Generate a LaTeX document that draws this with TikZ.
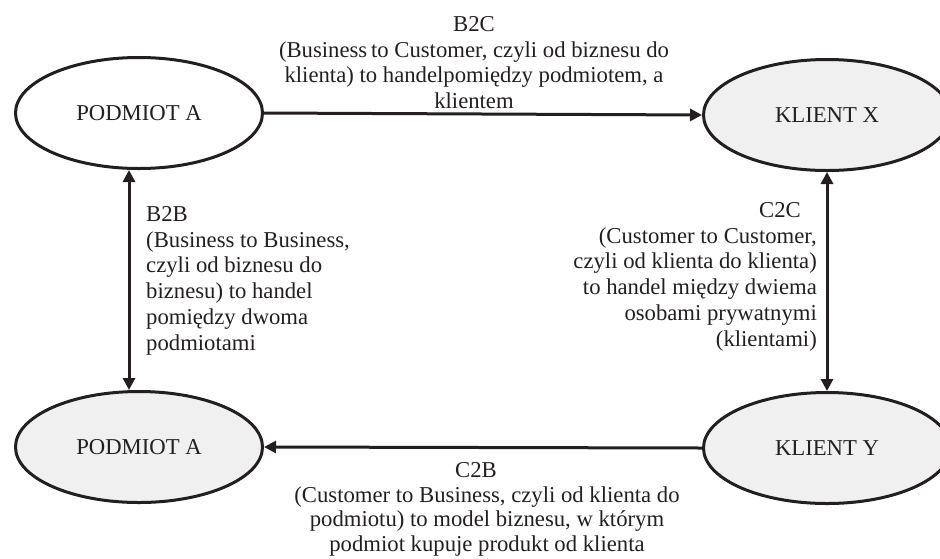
\documentclass[tikz,border=0pt]{standalone}
\usepackage{fontspec}
\setmainfont{Liberation Serif}
\usetikzlibrary{shapes.geometric,arrows.meta}
\definecolor{myfill}{RGB}{240,240,240}
\definecolor{myink}{RGB}{35,31,32}

\begin{document}
\begin{tikzpicture}[x=1pt, y=-1pt,
    every node/.style={font=\fontsize{22.7}{25.8}\selectfont, text=myink},
    party/.style={ellipse, draw=myink, line width=3pt, fill=myfill,
        minimum width=247pt, minimum height=111pt, inner sep=0pt},
    flow/.style={draw=myink, line width=3pt,
        -{Triangle[length=12pt, width=12pt]}},
    twoway/.style={flow, {Triangle[length=12pt, width=12pt]}-{Triangle[length=12pt, width=12pt]}},
    note/.style={inner sep=0pt}]
    \useasboundingbox (0, 0) rectangle (940, 558);
    % Parties
    \node[party, fill=white] (PodmiotTop) at (139, 113) {PODMIOT A};
    \node[party] (KlientX) at (827, 115) {KLIENT X};
    \node[party] (PodmiotBot) at (139, 447) {PODMIOT A};
    \node[party] (KlientY) at (827, 448) {KLIENT Y};
    % Relations
    \draw[flow] (PodmiotTop.east) -- (KlientX.west);
    \draw[flow] (KlientY.west) -- (PodmiotBot.east);
    \draw[twoway] ([xshift=-10pt]PodmiotTop.south) -- ([xshift=-10pt]PodmiotBot.north);
    \draw[twoway] (KlientX.south) -- (KlientY.north);
    % Descriptions
    \node[note, anchor=north, align=center] (B2C) at (474, 16)
        {B2C\\(Business\,to Customer, czyli od biznesu do\\klienta) to handelpomiędzy podmiotem, a\\klientem};
    \node[note, anchor=north west, align=left] (B2B) at (146, 206)
        {B2B\\(Business to Business,\\czyli od biznesu do\\biznesu) to handel\\pomiędzy dwoma\\podmiotami};
    \node[note, anchor=north east, align=right] (C2C) at (817, 202)
        {C2C\hspace*{16pt}\\(Customer to Customer,\\czyli od klienta do klienta)\\to handel między dwiema\\osobami prywatnymi\\(klientami)};
    \node[note, anchor=north, align=center] (C2B) at (487, 462)
        {C2B\hspace*{22pt}\\[-1pt](Customer to Business, czyli od klienta do\\[-1pt]podmiotu) to model biznesu, w którym\\[-1pt]podmiot kupuje produkt od klienta};
\end{tikzpicture}
\end{document}
